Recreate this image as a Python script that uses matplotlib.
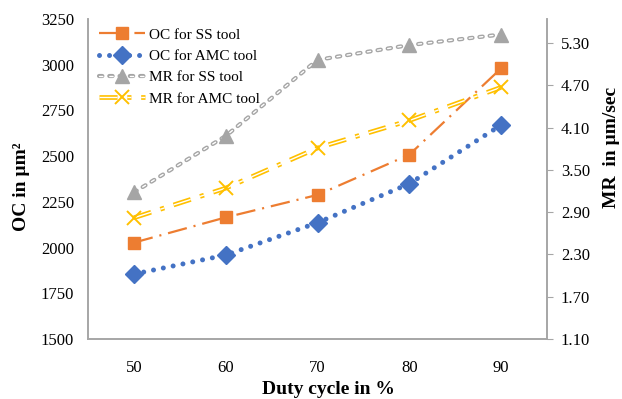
import matplotlib
matplotlib.use("Agg")
import matplotlib.pyplot as plt
from matplotlib.legend_handler import HandlerTuple
import numpy as np

plt.rcParams['font.family'] = ['Liberation Serif', 'DejaVu Serif']
plt.rcParams['lines.scale_dashes'] = False

duty = ["50", "60", "70", "80", "90"]
oc_ss = [2027, 2165, 2288, 2508, 2980]
oc_amc = [1855, 1959, 2136, 2349, 2670]
mr_ss = [3.18, 3.98, 5.06, 5.27, 5.42]
mr_amc = [2.82, 3.24, 3.81, 4.20, 4.67]

C_OR = '#ED7D31'
C_BL = '#4472C4'
C_GR = '#A5A5A5'
C_YE = '#FFC000'

fig = plt.figure(figsize=(6.22, 3.99), dpi=100)
ax = fig.add_axes([88/622, 1-339/399, (547-88)/622, 320/399])
ax2 = ax.twinx()
x = np.arange(len(duty))

# OC for SS tool
l1, = ax.plot(x, oc_ss, color=C_OR, lw=1.6, dashes=(14, 5, 1.5, 5), zorder=3)
m1, = ax.plot(x, oc_ss, ls='none', marker='s', ms=9, color=C_OR, zorder=4)
# OC for AMC tool
l2, = ax.plot(x, oc_amc, color=C_BL, lw=3.6, dashes=(0.01, 7.2), dash_capstyle='round', zorder=3)
m2, = ax.plot(x, oc_amc, ls='none', marker='D', ms=9, color=C_BL, zorder=4)

# MR for SS tool (hollow dashes)
l3a, = ax2.plot(x, mr_ss, color=C_GR, lw=3.0, dashes=(2.4, 5.0), dash_capstyle='round', zorder=3)
l3b, = ax2.plot(x, mr_ss, color='white', lw=1.0, dashes=(2.4, 5.0), dash_capstyle='round', zorder=3)
m3, = ax2.plot(x, mr_ss, ls='none', marker='^', ms=9.5, color=C_GR, zorder=4)
# MR for AMC tool (double line, dash-dot)
l4a, = ax2.plot(x, mr_amc, color=C_YE, lw=3.4, dashes=(13, 7, 3, 7), zorder=3)
l4b, = ax2.plot(x, mr_amc, color='white', lw=1.0, dashes=(13, 7, 3, 7), zorder=3)
m4, = ax2.plot(x, mr_amc, ls='none', marker='x', ms=10, mew=1.4, color=C_YE, zorder=4)

ax.set_xlim(-0.5, 4.5)
ax.set_ylim(1500, 3250)
ax.set_yticks(np.arange(1500, 3251, 250))
ax2.set_ylim(1.1, 5.64)
ax2.set_yticks([1.1, 1.7, 2.3, 2.9, 3.5, 4.1, 4.7, 5.3])
ax2.set_yticklabels(['%.2f' % v for v in [1.1, 1.7, 2.3, 2.9, 3.5, 4.1, 4.7, 5.3]])
ax.set_xticks(x)
ax.set_xticklabels(duty)

for a in (ax, ax2):
    a.spines['top'].set_visible(False)
    for s in ('left', 'right', 'bottom'):
        a.spines[s].set_color('#A6A6A6')
        a.spines[s].set_linewidth(1.2)
ax.tick_params(axis='y', length=0, labelsize=12, pad=10)
ax.tick_params(axis='x', length=0, labelsize=12, pad=15)
ax2.tick_params(axis='y', length=4, color='#A6A6A6', labelsize=12, pad=6)

fig.text(328/622, 1-389/399, 'Duty cycle in %', ha='center', va='center',
         fontsize=14, fontweight='bold')
fig.text(22/622, 1-187/399, 'OC in µm²', ha='center', va='center',
         rotation=90, fontsize=14, fontweight='bold')
fig.text(612/622, 1-147/399, 'MR  in µm/sec', ha='center', va='center',
         rotation=90, fontsize=14, fontweight='bold')

handles = [(l1, m1), (l2, m2), (l3a, l3b, m3), (l4a, l4b, m4)]
labels = ['OC for SS tool', 'OC for AMC tool', 'MR for SS tool', 'MR for AMC tool']
leg = ax2.legend(handles, labels, handler_map={tuple: HandlerTuple(ndivide=1, pad=0)},
                 loc='upper left', bbox_to_anchor=(99/622, 1-28/399),
                 bbox_transform=fig.transFigure, frameon=False, fontsize=11,
                 handlelength=3.0, handletextpad=0.3, labelspacing=0.5,
                 borderpad=0, borderaxespad=0)
leg.set_zorder(10)

fig.savefig('out.png', dpi=100)
